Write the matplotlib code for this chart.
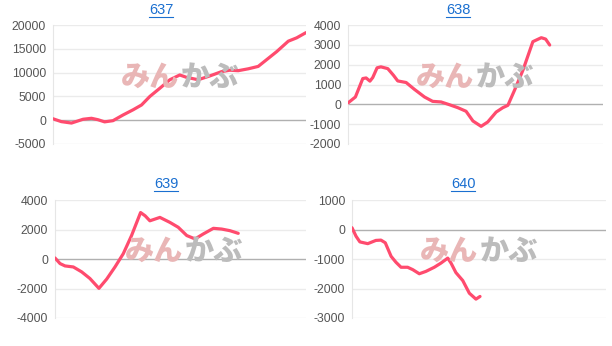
import numpy as np
import matplotlib.pyplot as plt
from matplotlib.lines import Line2D

plt.rcParams['axes.unicode_minus'] = False
plt.rcParams['font.family'] = ['Liberation Sans', 'DejaVu Sans']

# chart values (x = position along the day, 0..100)
titles = ['637', '638', '639', '640']

x_637 = [0, 3.3, 7.3, 11.9, 15.2, 17.8, 20.4, 23.7, 27.7, 31.7, 35, 38.3, 42.2, 46.2,
         50.1, 52.8, 57.4, 62, 66.6, 69.9, 73.2, 77.2, 81.1, 84.4, 88.4, 93, 96.3, 100]
y_637 = [300, -300, -600, 200, 400, 100, -350, -100, 1100, 2200, 3200, 5000, 6700, 8500,
         9500, 9000, 8500, 9300, 10200, 10500, 10400, 10800, 11300, 12700, 14400, 16600,
         17300, 18400]

x_638 = [0, 2.9, 5.8, 7.1, 8.6, 9.7, 11.4, 12.9, 15.6, 17.8, 19.5, 22.8, 26.0, 30.0,
         33.2, 36.5, 39.8, 43.1, 46.3, 49.0, 52.2, 54.8, 58.1, 60.7, 62.7, 65.3, 68.6,
         72.5, 75.8, 77.5, 79.1]
y_638 = [70, 370, 1300, 1330, 1170, 1350, 1840, 1890, 1800, 1470, 1180, 1100, 760, 370,
         150, 120, -20, -170, -350, -840, -1110, -890, -390, -170, -50, 710, 1720, 3160,
         3360, 3290, 2990]

x_639 = [0, 2.0, 4.0, 7.3, 10.6, 13.9, 17.5, 20.6, 23.9, 27.2, 30.5, 34.1, 35.9, 37.8,
         41.8, 45.8, 49.1, 52.5, 55.8, 59.1, 63.1, 66.4, 69.7, 73.0]
y_639 = [70, -310, -470, -540, -870, -1320, -1990, -1360, -540, 360, 1590, 3150, 2930,
         2590, 2820, 2480, 2150, 1590, 1360, 1700, 2080, 2030, 1920, 1740]

x_640 = [0, 1.6, 3.1, 6.2, 9.4, 11.4, 13.1, 15.4, 17.3, 19.3, 21.9, 23.9, 26.5, 29.1,
         32.4, 35.0, 37.7, 39.0, 40.9, 43.6, 46.2, 48.8, 50.4]
y_640 = [60, -230, -420, -480, -370, -360, -450, -910, -1110, -1280, -1280, -1360, -1500,
         -1420, -1280, -1140, -970, -1140, -1460, -1730, -2160, -2360, -2270]

series = [(x_637, y_637), (x_638, y_638), (x_639, y_639), (x_640, y_640)]
ylims = [(-5000, 20000), (-2000, 4000), (-4000, 4000), (-3000, 1000)]
ysteps = [5000, 1000, 2000, 1000]

W, H = 612, 346
# axes boxes in pixels: left, right, top, bottom
boxes = [(53, 306, 25, 144), (348, 603, 25, 144), (55, 306, 200, 318), (352, 606, 200, 318)]
title_pos = [(161, 10), (458, 10), (166, 184), (463, 184)]
mark_pos = [(178, 77), (473, 77), (182, 251), (477, 251)]

fig = plt.figure(figsize=(W / 100, H / 100), dpi=100)
fig.patch.set_facecolor('white')

for i in range(4):
    l, r, t, b = boxes[i]
    ax = fig.add_axes([l / W, 1 - b / H, (r - l) / W, (b - t) / H])
    ymin, ymax = ylims[i]
    ticks = np.arange(ymin, ymax + 1, ysteps[i])
    ax.set_ylim(ymin, ymax)
    ax.set_xlim(0, 100)
    ax.set_yticks(ticks)
    ax.set_xticks([])
    for s in ['top', 'right', 'bottom']:
        ax.spines[s].set_visible(False)
    ax.spines['left'].set_color('#e6e6e6')
    ax.tick_params(axis='y', length=0, labelsize=8.8, labelcolor='#555555', pad=5)
    for v in ticks:
        ax.axhline(v, color='#b0b0b0' if v == 0 else '#ebebeb', lw=1.0, zorder=1)

    # watermark
    mx, my = mark_pos[i]
    fig.text(mx / W + 0.002, 1 - my / H, 'みん', color='#e9b6b6', fontsize=21,
             fontweight='black', family='Noto Sans CJK JP', ha='right', va='center',
             zorder=0)
    fig.text(mx / W + 0.004, 1 - my / H, 'かぶ', color='#bcbcbc', fontsize=21,
             fontweight='black', family='Noto Sans CJK JP', ha='left', va='center',
             zorder=0)
    ax.patch.set_alpha(0)

    xs, ys = series[i]
    ax.plot(xs, ys, color='#ff4b6e', lw=2.3, solid_capstyle='round', zorder=3)

    # underlined blue title
    tx, ty = title_pos[i]
    fig.text(tx / W, 1 - ty / H, titles[i], color='#1a6fd0', fontsize=10.5,
             ha='center', va='center')
    fig.add_artist(Line2D([(tx - 12) / W, (tx + 12) / W], [1 - (ty + 7) / H] * 2,
                          color='#1a6fd0', lw=0.8))

fig.savefig('out.png', dpi=100)
